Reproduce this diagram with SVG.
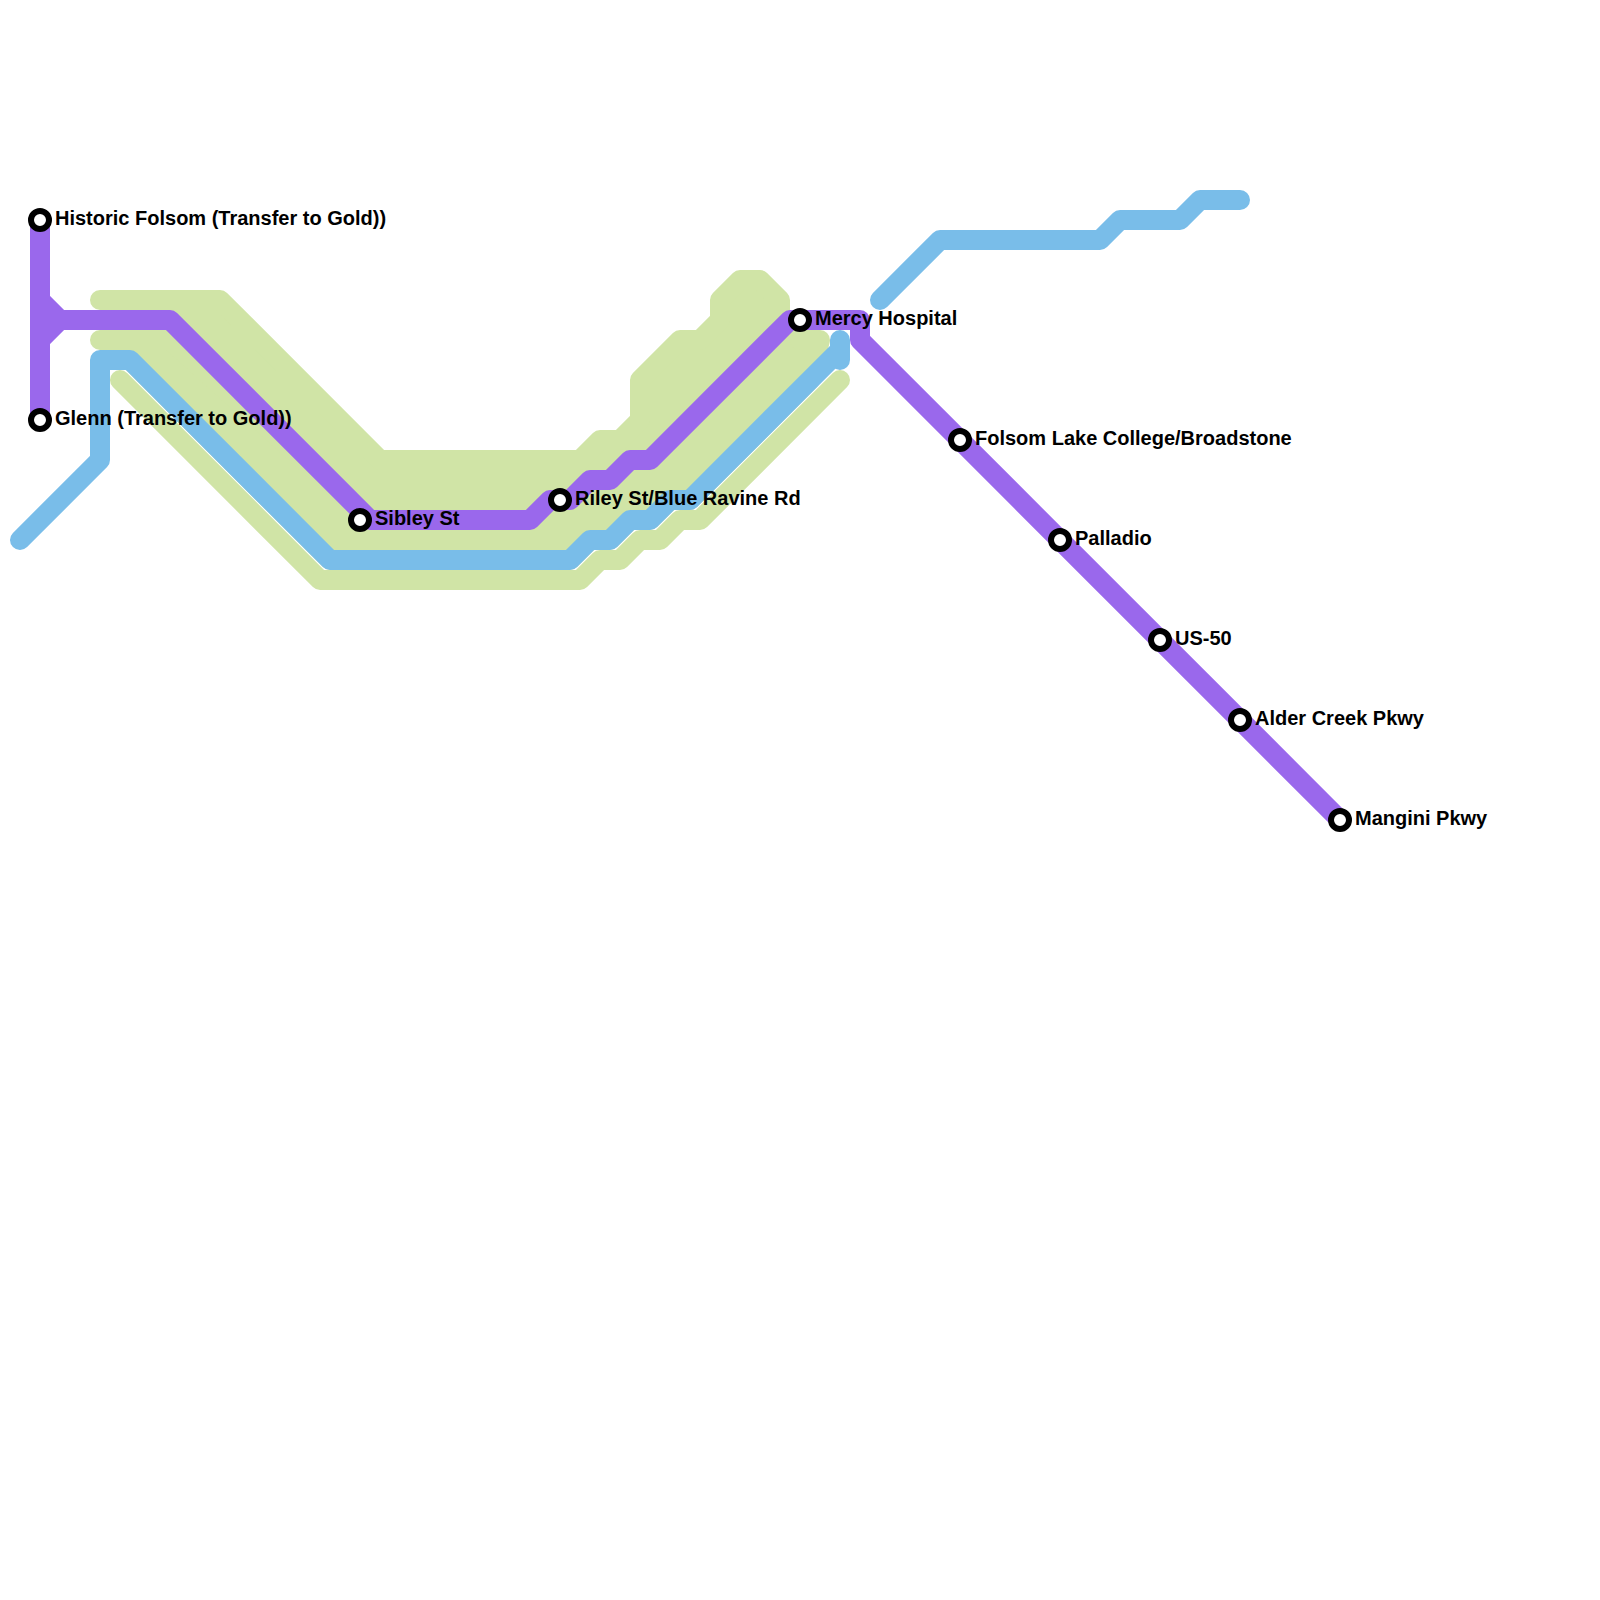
<svg xmlns="http://www.w3.org/2000/svg" width="1600" height="1600" viewBox="0 0 1600 1600">
<style>
.l{fill:none;stroke-width:20;stroke-linecap:round;stroke-linejoin:round}
.g{stroke:#d0e4a6}
.gf{fill:#d0e4a6;stroke:#d0e4a6;stroke-width:20;stroke-linejoin:round;stroke-linecap:round}
.b{stroke:#79bde9}
.p{stroke:#9a68ec}
.s{fill:#fff;stroke:#000;stroke-width:6}
text{font-family:"Liberation Sans",Arial,sans-serif;font-weight:700;font-size:20px;fill:#000}
</style>
<rect width="1600" height="1600" fill="#fff"/>
<g id="connectors">
<path id="green-band" class="gf" d="M100 300H220L380 460H580L600 440H620L640 420V380L680 340H700L720 320V300L740 280H760L780 300V330L650 460H630L610 480H590L570 500H550L530 520H370L170 320V300Z"/>
<path id="green-mid" class="gf" d="M100 340H170L370 520H530L550 500H570L590 480H610L630 460H650L790 320L800 340H820L810 380L690 500H670L650 520H630L610 540H590L570 560H330L130 360V340Z"/>
<path id="blue-main" class="l b" d="M20 540L100 460V360H130L330 560H570L590 540H610L630 520H650L670 500H690L840 350M840 340V360"/>
<path id="green-low" class="l g" d="M120 380L320 580H580L600 560H620L640 540H660L680 520H700L840 380"/>
<path id="blue-east" class="l b" d="M880 300L940 240H1100L1120 220H1180L1200 200H1240"/>
<path id="purple-main" class="l p" d="M40 220V420M40 300L60 320L40 340M40 320H170L370 520H530L550 500H570L590 480H610L630 460H650L790 320H860V340L1340 820"/>
</g>
<g id="historic-folsom"><circle class="s" cx="40" cy="220" r="9"/><text x="55" y="225">Historic Folsom (Transfer to Gold))</text></g>
<g id="glenn"><circle class="s" cx="40" cy="420" r="9"/><text x="55" y="425">Glenn (Transfer to Gold))</text></g>
<g id="sibley"><circle class="s" cx="360" cy="520" r="9"/><text x="375" y="525">Sibley St</text></g>
<g id="riley"><circle class="s" cx="560" cy="500" r="9"/><text x="575" y="505">Riley St/Blue Ravine Rd</text></g>
<g id="mercy"><circle class="s" cx="800" cy="320" r="9"/><text x="815" y="325">Mercy Hospital</text></g>
<g id="folsom-lake"><circle class="s" cx="960" cy="440" r="9"/><text x="975" y="445">Folsom Lake College/Broadstone</text></g>
<g id="palladio"><circle class="s" cx="1060" cy="540" r="9"/><text x="1075" y="545">Palladio</text></g>
<g id="us-50"><circle class="s" cx="1160" cy="640" r="9"/><text x="1175" y="645">US-50</text></g>
<g id="alder-creek"><circle class="s" cx="1240" cy="720" r="9"/><text x="1255" y="725">Alder Creek Pkwy</text></g>
<g id="mangini"><circle class="s" cx="1340" cy="820" r="9"/><text x="1355" y="825">Mangini Pkwy</text></g>
</svg>
